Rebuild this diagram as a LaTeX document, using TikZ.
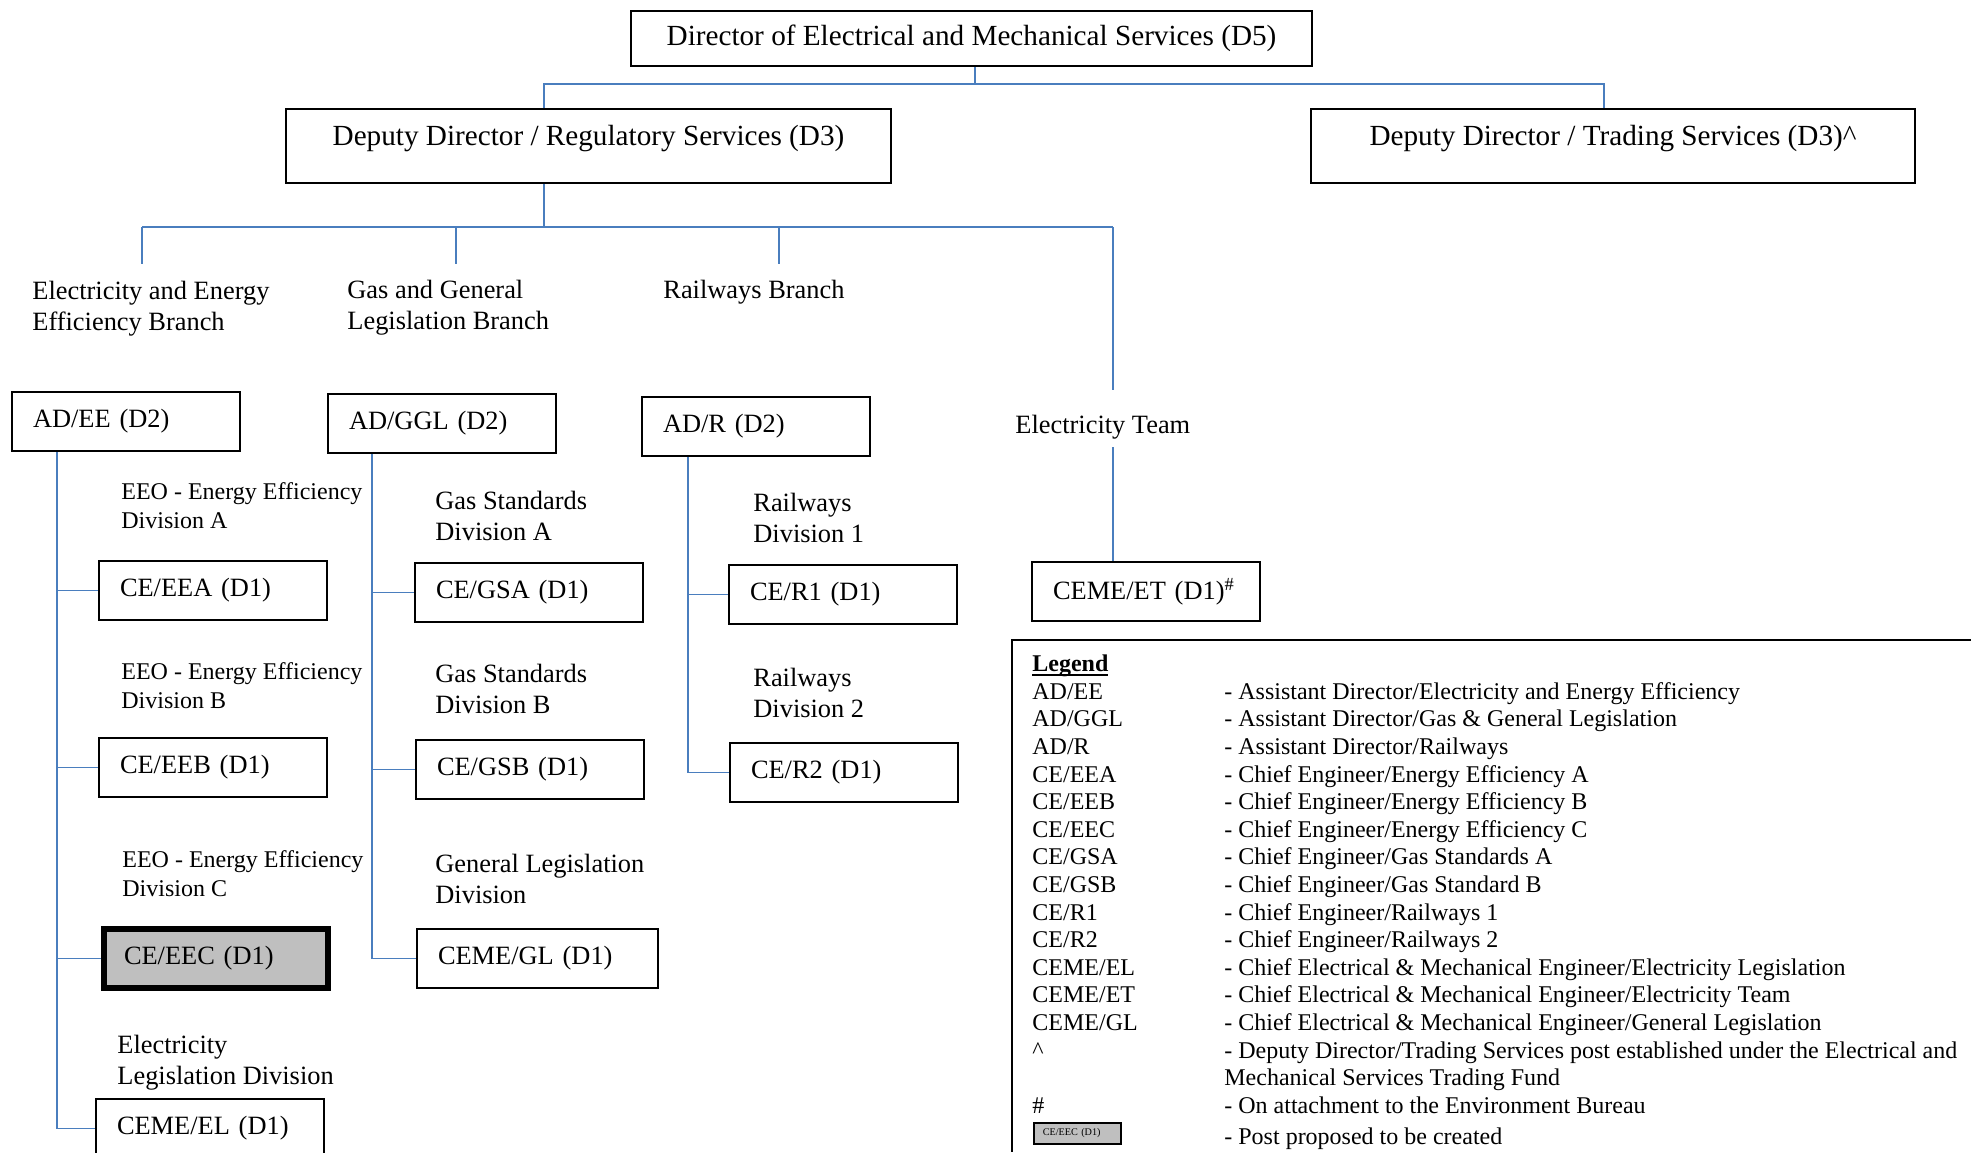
\documentclass[tikz,border=0pt]{standalone}
\usepackage{fontspec}
\setmainfont{Liberation Serif}
\usepackage{tikz}
\usetikzlibrary{positioning}
\definecolor{linkblue}{RGB}{74,126,190}
\newcommand{\ulegend}[1]{\leavevmode\setbox0\hbox{#1}\rlap{\rule[-2.2pt]{\wd0}{0.9pt}}\box0}

\begin{document}
\begin{tikzpicture}[
    x=0.5pt, y=-0.5pt,
    every node/.style={
        inner sep=0pt,
        anchor=north west
    },
    head/.style={
        draw,
        line width=1pt,
        align=center,
        font=\fontsize{14.6}{17}\selectfont
    },
    post/.style={
        draw,
        line width=1pt,
        minimum height=29.5pt,
        text width=93pt,
        inner xsep=10.5pt,
        align=left,
        font=\fontsize{13.2}{16}\selectfont
    },
    newpost/.style={
        post,
        line width=3pt,
        fill=gray!50,
        text width=92pt,
        inner xsep=10pt
    },
    unit/.style={
        align=left,
        font=\fontsize{13.2}{15.5}\selectfont
    },
    eeo/.style={
        align=left,
        font=\fontsize{12}{14.5}\selectfont
    },
    link/.style={
        draw=linkblue,
        line width=0.9pt
    }
]
\useasboundingbox[fill=white] (0,0) rectangle (1971,1152);

\node[head, minimum width=340.5pt, minimum height=27.5pt] (d5) at (630,10)
    {Director of Electrical and Mechanical Services (D5)};
\node[head, minimum width=302.5pt, minimum height=37pt, text depth=10.5pt] (ddrs) at (285,108)
    {Deputy Director / Regulatory Services (D3)};
\node[head, minimum width=302pt, minimum height=37pt, text depth=10.5pt] (ddts) at (1310,108)
    {Deputy Director / Trading Services (D3)\textasciicircum};

% branches
\node[unit] (brEE) at (32,281) {Electricity and Energy\\Efficiency Branch};
\node[unit] (brGGL) at (347,280) {Gas and General\\Legislation Branch};
\node[unit] (brRail) at (663,280) {Railways Branch};
\node[unit] (team) at (1015,415) {Electricity Team};

\node[post] (adee) at (11,391) {AD/EE (D2)};
\node[post] (adggl) at (327,393) {AD/GGL (D2)};
\node[post] (adr) at (641,396) {AD/R (D2)};

% divisions
\node[eeo] (divEEA) at (121,482) {EEO - Energy Efficiency\\Division A};
\node[eeo] (divEEB) at (121,662) {EEO - Energy Efficiency\\Division B};
\node[eeo] (divEEC) at (122,850) {EEO - Energy Efficiency\\Division C};
\node[unit] (divEL) at (117,1035) {Electricity\\Legislation Division};
\node[unit] (divGSA) at (435,491) {Gas Standards\\Division A};
\node[unit] (divGSB) at (435,664) {Gas Standards\\Division B};
\node[unit] (divGL) at (435,854) {General Legislation\\Division};
\node[unit] (divR1) at (753,493) {Railways\\Division 1};
\node[unit] (divR2) at (753,668) {Railways\\Division 2};

\node[post] (ceea) at (98,560) {CE/EEA (D1)};
\node[post] (ceeb) at (98,737) {CE/EEB (D1)};
\node[newpost] (ceec) at (101,926) {CE/EEC (D1)};
\node[post] (ceel) at (95,1098) {CEME/EL (D1)};
\node[post] (cegsa) at (414,562) {CE/GSA (D1)};
\node[post] (cegsb) at (415,739) {CE/GSB (D1)};
\node[post, text width=99.5pt] (cemegl) at (416,928) {CEME/GL (D1)};
\node[post] (cer1) at (728,564) {CE/R1 (D1)};
\node[post] (cer2) at (729,742) {CE/R2 (D1)};
\node[post] (cemeet) at (1031,561) {CEME/ET (D1)\textsuperscript{\#}};

% connectors
\coordinate (busD5) at (975,84);
\coordinate (busRS) at (544,84);
\coordinate (busTS) at (1604,84);
\draw[link] (d5.south -| busD5) -- (busD5);
\draw[link] (ddrs.north -| busRS) -- (busRS) -- (busTS) -- (ddts.north -| busTS);

\coordinate (busMid) at (544,227);
\coordinate (busEE) at (142,227);
\coordinate (busGGL) at (456,227);
\coordinate (busRail) at (779,227);
\coordinate (busTeam) at (1113,227);
\coordinate (endEE) at (142,264);
\coordinate (endGGL) at (456,264);
\coordinate (endRail) at (779,264);
\coordinate (endTeam) at (1113,390);
\coordinate (teamTop) at (1113,447);
\draw[link] (ddrs.south -| busMid) -- (busMid);
\draw[link] (busEE) -- (busTeam);
\draw[link] (busEE) -- (endEE);
\draw[link] (busGGL) -- (endGGL);
\draw[link] (busRail) -- (endRail);
\draw[link] (busTeam) -- (endTeam);
\draw[link] (teamTop) -- (cemeet.north -| teamTop);

\coordinate (tEE) at (57,0);
\coordinate (tGGL) at (372,0);
\coordinate (tRail) at (688,0);
\draw[link] (adee.south -| tEE) |- (ceel.west);
\draw[link] (tEE |- ceea.west) -- (ceea.west);
\draw[link] (tEE |- ceeb.west) -- (ceeb.west);
\draw[link] (tEE |- ceec.west) -- (ceec.west);
\draw[link] (adggl.south -| tGGL) |- (cemegl.west);
\draw[link] (tGGL |- cegsa.west) -- (cegsa.west);
\draw[link] (tGGL |- cegsb.west) -- (cegsb.west);
\draw[link] (adr.south -| tRail) |- (cer2.west);
\draw[link] (tRail |- cer1.west) -- (cer1.west);

% legend
\draw[line width=1pt] (1971,640) -- (1012,640) -- (1012,1152);
\node[font=\fontsize{12}{13.8}\selectfont] (legend) at (1032,652) {%
\begin{tabular}{@{}p{96pt}@{}l@{}}
\ulegend{\textbf{Legend}} & \\
AD/EE & - Assistant Director/Electricity and Energy Efficiency\\
AD/GGL & - Assistant Director/Gas \& General Legislation\\
AD/R & - Assistant Director/Railways\\
CE/EEA & - Chief Engineer/Energy Efficiency A\\
CE/EEB & - Chief Engineer/Energy Efficiency B\\
CE/EEC & - Chief Engineer/Energy Efficiency C\\
CE/GSA & - Chief Engineer/Gas Standards A\\
CE/GSB & - Chief Engineer/Gas Standard B\\
CE/R1 & - Chief Engineer/Railways 1\\
CE/R2 & - Chief Engineer/Railways 2\\
CEME/EL & - Chief Electrical \& Mechanical Engineer/Electricity Legislation\\
CEME/ET & - Chief Electrical \& Mechanical Engineer/Electricity Team\\
CEME/GL & - Chief Electrical \& Mechanical Engineer/General Legislation\\
\textasciicircum & - Deputy Director/Trading Services post established under the Electrical and\\
 & Mechanical Services Trading Fund\\
\# & - On attachment to the Environment Bureau\\[1.9pt]
 & - Post proposed to be created
\end{tabular}};
\node[draw, line width=0.8pt, fill=gray!50, minimum height=10.5pt, text width=34.5pt,
    inner xsep=4.5pt, align=left, font=\fontsize{5.1}{6}\selectfont] (legbox) at (1033,1122)
    {CE/EEC (D1)};

\end{tikzpicture}
\end{document}
